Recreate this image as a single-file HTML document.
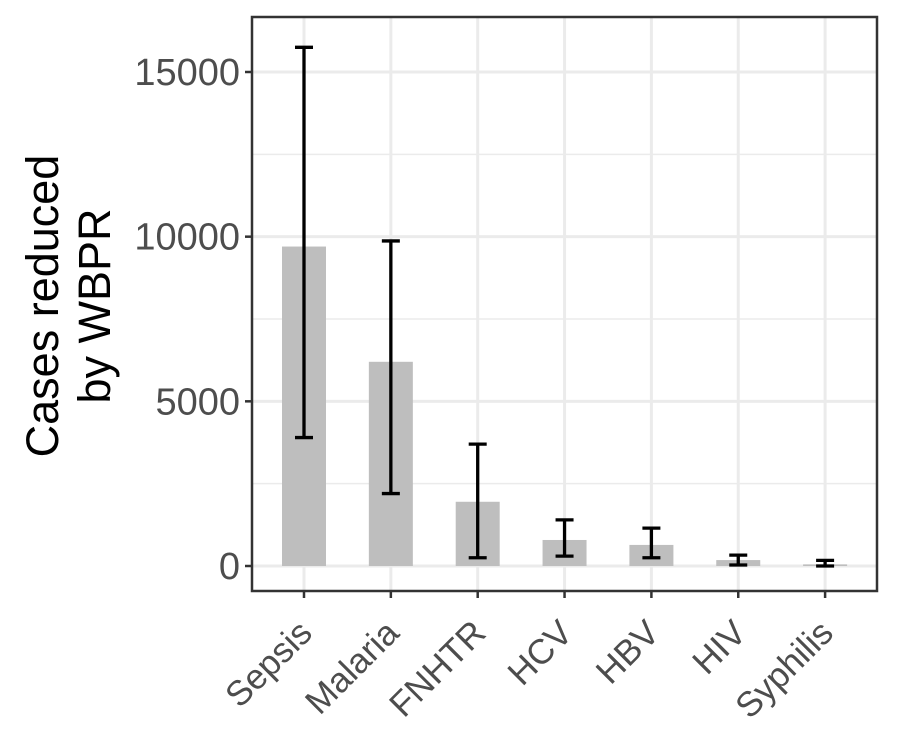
<!DOCTYPE html>
<html><head><meta charset="utf-8"><style>body{margin:0;background:#fff}svg{display:block}text{font-family:"Liberation Sans",Arial,sans-serif}</style></head>
<body>
<svg id="chart" width="900" height="750">
<rect width="900" height="750" fill="#fff"/>
<g id="grid"></g><g id="bars"></g><g id="errs"></g><g id="axes"></g>
<text transform="translate(58,306) rotate(-90)" text-anchor="middle" font-size="45" fill="#000"><tspan x="0" dy="-0">Cases reduced</tspan><tspan x="0" dy="52">by WBPR</tspan></text>
</svg>
<script>
const categories=["Sepsis","Malaria","FNHTR","HCV","HBV","HIV","Syphilis"];
const values=[9700,6200,1950,790,640,180,50];
const lower=[3900,2200,250,300,250,30,0];
const upper=[15750,9870,3700,1400,1150,330,170];
const yTicks=[0,5000,10000,15000];
const NS="http://www.w3.org/2000/svg";
const L=252,R=877,T=17,B=591;
const y=v=>566-v*(566-72)/15000;
const x=i=>304+i*86.85;
function mk(p,tag,a){const e=document.createElementNS(NS,tag);for(const k in a)e.setAttribute(k,a[k]);document.getElementById(p).appendChild(e);return e;}
for(let v=2500;v<=15000;v+=5000){const e=mk("grid","line",{x1:L,x2:R,y1:y(v),y2:y(v),stroke:"#ebebeb","stroke-width":1.5});

}
yTicks.forEach(v=>{const e=mk("grid","line",{x1:L,x2:R,y1:y(v),y2:y(v),stroke:"#ebebeb","stroke-width":3});


const t=mk("axes","text",{x:240,y:y(v)+13,"text-anchor":"end","font-size":38,fill:"#4d4d4d"});t.textContent=v;


const tk=mk("axes","line",{x1:245,x2:L,y1:y(v),y2:y(v),stroke:"#333","stroke-width":2.5});

});
categories.forEach((c,i)=>{const g=mk("grid","line",{x1:x(i),x2:x(i),y1:T,y2:B,stroke:"#ebebeb","stroke-width":3});


const b=mk("bars","rect",{x:x(i)-22,y:y(values[i]),width:44,height:Math.max(y(0)-y(values[i]),1.5),fill:"#bebebe"});


const ep=mk("errs","path",{d:`M${x(i)-9},${y(upper[i])}H${x(i)+9}M${x(i)},${y(upper[i])}V${y(lower[i])}M${x(i)-9},${y(lower[i])}H${x(i)+9}`,stroke:"#000","stroke-width":3.3,fill:"none"});


const tk=mk("axes","line",{x1:x(i),x2:x(i),y1:B,y2:B+7,stroke:"#333","stroke-width":2.5});


const t=mk("axes","text",{transform:`translate(${x(i)+10},${B+44}) rotate(-45)`,"text-anchor":"end","font-size":35,fill:"#4d4d4d"});t.textContent=c;

});
const f=mk("axes","rect",{x:L,y:T,width:R-L,height:B-T,fill:"none",stroke:"#333","stroke-width":2.5});


</script>
</body></html>
